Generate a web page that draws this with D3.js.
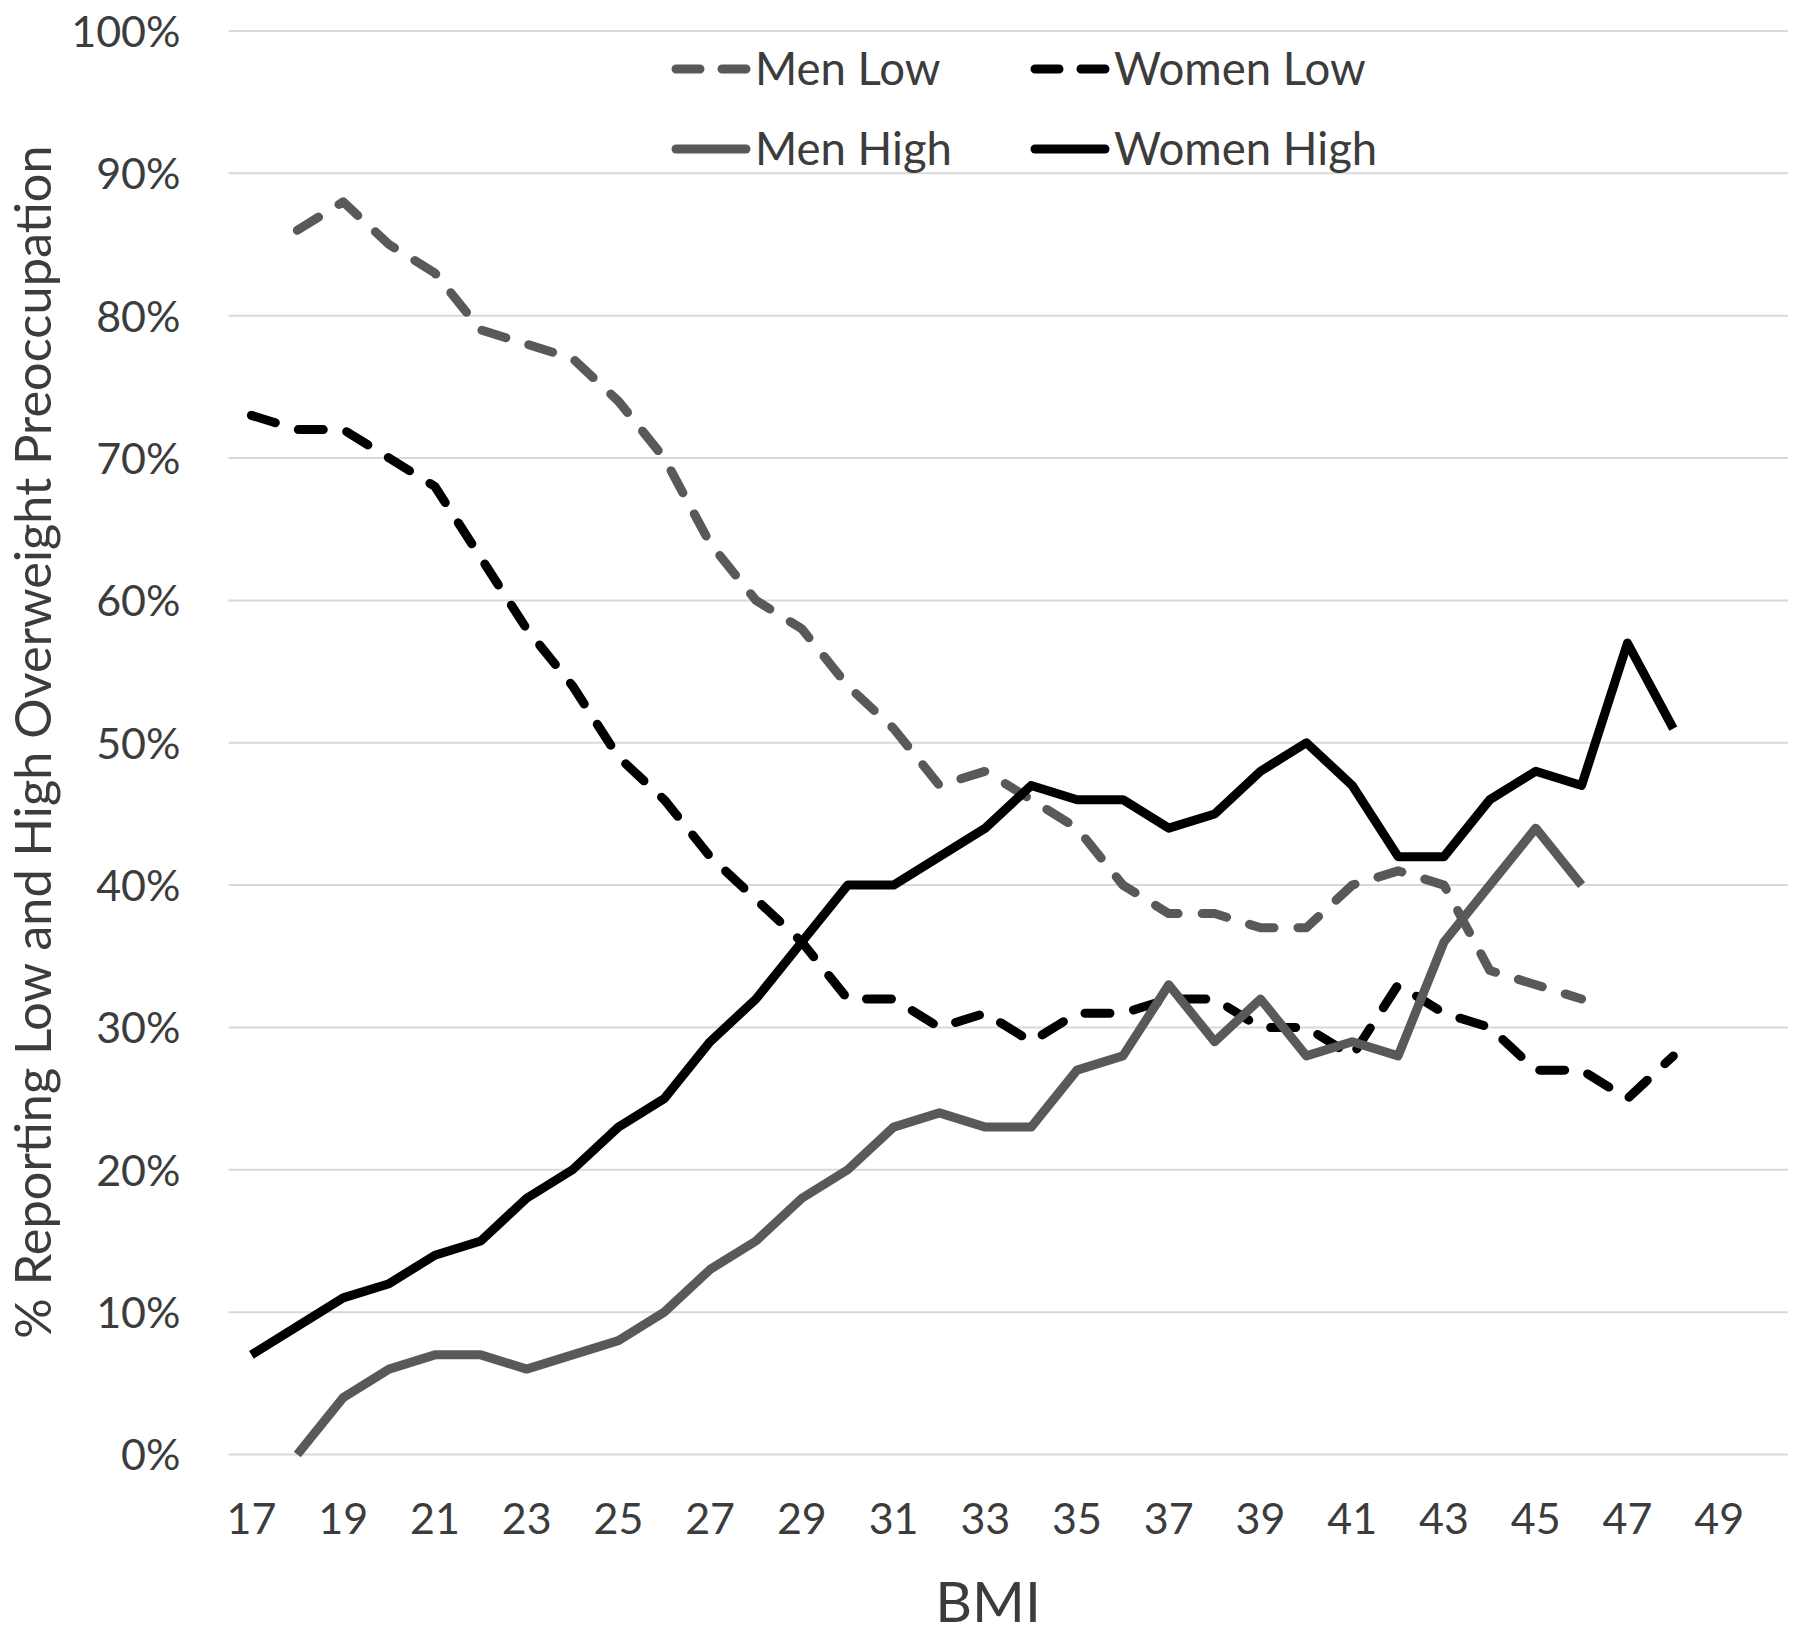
<!DOCTYPE html>
<html><head><meta charset="utf-8">
<script src="https://cdn.jsdelivr.net/npm/d3@7"></script>
<style>
html,body{margin:0;padding:0;background:#fff;}
text{font-family:Lato,"Noto Sans",sans-serif;}
</style></head>
<body><svg id="chart" width="1800" height="1636"></svg>
<script>
const bmiCategories = ["17","18","19","20","21","22","23","24","25","26","27","28","29","30","31","32","33","34","35","36","37","38","39","40","41","42","43","44","45","46","47","48","49","50"];
const bmiTickLabels = ["17","19","21","23","25","27","29","31","33","35","37","39","41","43","45","47","49"];
const yTickValues = [0,10,20,30,40,50,60,70,80,90,100];
// values for BMI 17..48 (null = no data)
const menLow    = [null,86,88,85,83,79,78,77,74,70,64,60,58,54,51,47,48,46,44,40,38,38,37,37,40,41,40,34,33,32,null,null];
const womenLow  = [73,72,72,70,68,63,58,54,49,46,42,39,36,32,32,30,31,29,31,31,32,32,30,30,28,33,31,30,27,27,25,28];
const menHigh   = [null,0,4,6,7,7,6,7,8,10,13,15,18,20,23,24,23,23,27,28,33,29,32,28,29,28,36,40,44,40,null,null];
const womenHigh = [7,9,11,12,14,15,18,20,23,25,29,32,36,40,40,42,44,47,46,46,44,45,48,50,47,42,42,46,48,47,57,51];
const seriesNames = ["Men Low","Women Low","Men High","Women High"];

(function(){
const GRAY = "#595959", BLACK = "#000000", TEXT = "#3c3c3c";
const series = [
  {name: seriesNames[0], values: menLow,    color: GRAY,  dash: true},
  {name: seriesNames[1], values: womenLow,  color: BLACK, dash: true},
  {name: seriesNames[2], values: menHigh,   color: GRAY,  dash: false},
  {name: seriesNames[3], values: womenHigh, color: BLACK, dash: false}
];

const svg = d3.select("#chart");
const pL = 228.5, pR = 1788, pT = 31, pB = 1454.5;
const x = d3.scaleBand().domain(bmiCategories).range([pL, pR]).padding(0);
const y = d3.scaleLinear().domain([0, 100]).range([pB, pT]);

// gridlines
svg.append("g").selectAll("line").data(yTickValues).join("line")
  .attr("x1", pL).attr("x2", pR)
  .attr("y1", d => y(d)).attr("y2", d => y(d))
  .attr("stroke", "#d9d9d9").attr("stroke-width", 2);

// y axis
const yAxis = svg.append("g").attr("transform", `translate(${pL},0)`)
  .call(d3.axisLeft(y).tickValues(yTickValues).tickFormat(d => d + "%").tickSize(0).tickPadding(48));
yAxis.select(".domain").remove();
yAxis.selectAll("text").attr("font-size", 43).attr("fill", TEXT).attr("font-family", "Lato").attr("dy", "0.36em");

// x axis
const xAxis = svg.append("g").attr("transform", `translate(0,${pB})`)
  .call(d3.axisBottom(x).tickValues(bmiTickLabels).tickSize(0).tickPadding(49));
xAxis.select(".domain").remove();
xAxis.selectAll("text").attr("font-size", 43).attr("fill", TEXT).attr("font-family", "Lato").attr("dy", "0.71em");

// axis titles
svg.append("text").attr("x", 988).attr("y", 1622).attr("text-anchor", "middle")
  .attr("font-size", 57).attr("fill", TEXT).text("BMI");
svg.append("text").attr("transform", "translate(51,742) rotate(-90)").attr("text-anchor", "middle")
  .attr("font-size", 50.5).attr("fill", TEXT).text("% Reporting Low and High Overweight Preoccupation");

// lines
const line = d3.line()
  .defined(d => d.v !== null)
  .x(d => x(d.c) + x.bandwidth() / 2)
  .y(d => y(d.v));
series.forEach(s => {
  const pts = s.values.map((v, i) => ({c: bmiCategories[i], v: v}));
  svg.append("path").datum(pts).attr("d", line)
    .attr("fill", "none").attr("stroke", s.color).attr("stroke-width", 9)
    .attr("stroke-linejoin", "round").attr("stroke-linecap", s.dash ? "round" : "butt")
    .attr("stroke-dasharray", s.dash ? "25,24" : null);
});

// legend
const legendPos = [[671, 69], [1030, 69], [671, 149], [1030, 149]];
series.forEach((s, i) => {
  const [lx, ly] = legendPos[i];
  svg.append("line").attr("x1", lx + 5).attr("x2", lx + 75).attr("y1", ly).attr("y2", ly)
    .attr("stroke", s.color).attr("stroke-width", 9).attr("stroke-linecap", "round")
    .attr("stroke-dasharray", s.dash ? "24,22" : null);
  svg.append("text").attr("x", lx + 84).attr("y", ly).attr("dy", "0.36em")
    .attr("font-size", 45.5).attr("fill", TEXT).text(s.name);
});
})();
</script></body></html>
